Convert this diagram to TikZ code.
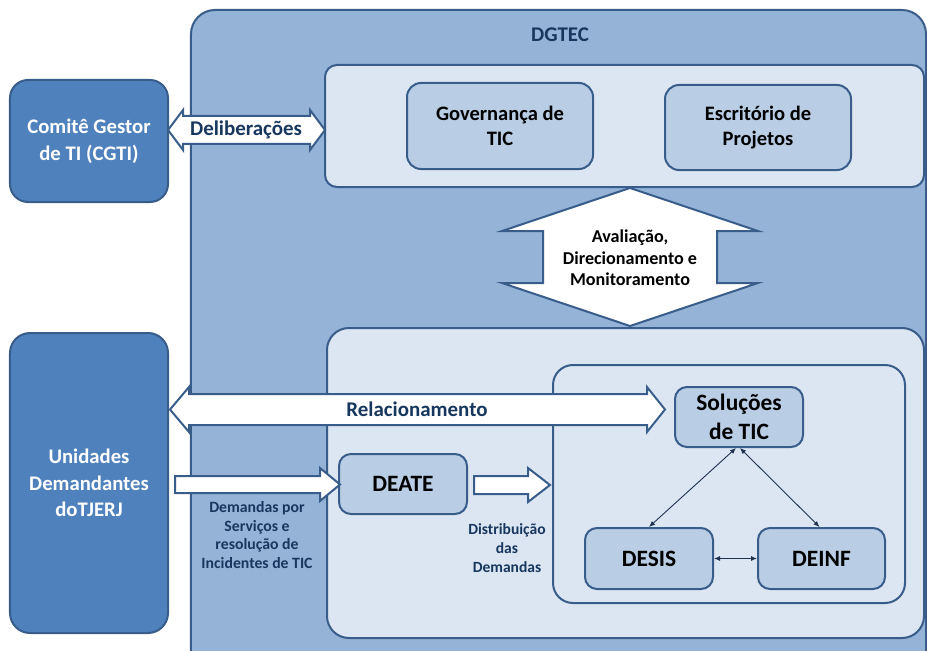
\documentclass[tikz,border=0pt]{standalone}
\usepackage{fontspec}
\setmainfont{Carlito}
\usetikzlibrary{arrows.meta}

\definecolor{edge}{HTML}{385D8A}
\definecolor{darkfill}{HTML}{4F81BD}
\definecolor{midfill}{HTML}{95B3D7}
\definecolor{palefill}{HTML}{DCE6F2}
\definecolor{boxfill}{HTML}{B9CDE5}
\definecolor{navy}{HTML}{17375E}
\definecolor{linkline}{HTML}{1F3350}

\tikzset{
  panel/.style={draw=edge, line width=2bp, rounded corners=#1, inner sep=0pt},
  outerbox/.style={panel=24bp, fill=midfill},
  palebox/.style={panel=#1, fill=palefill},
  unitbox/.style={panel=14bp, fill=boxfill, align=center, text=black,
    font=\bfseries\fontsize{20.6}{25.5}\selectfont},
  smallunit/.style={unitbox, panel=12bp, font=\bfseries\fontsize{23.5}{28.5}\selectfont},
  bigbox/.style={panel=#1, fill=darkfill, align=center, text=white,
    font=\bfseries\fontsize{20.8}{26.8}\selectfont},
  blockarrow/.style={draw=edge, line width=2bp, fill=white, line join=miter},
  navylabel/.style={text=navy, align=center, inner sep=0pt},
  link/.style={draw=linkline, line width=0.9bp, {Latex[length=6bp,width=5bp]}-{Latex[length=6bp,width=5bp]}}
}

\begin{document}
\begin{tikzpicture}[x=1bp, y=-1bp]
\useasboundingbox (0,0) rectangle (927,651);
\clip (0,0) rectangle (927,651);

% DGTEC area and its panels
\node[outerbox, minimum width=735bp, minimum height=670bp] (dgtec) at (558.5,345) {};
\node[navylabel, font=\bfseries\fontsize{21}{25}\selectfont] (dgteclabel) at (560,35) {DGTEC};

\node[palebox=12bp, minimum width=599bp, minimum height=122bp] (upper) at (624.5,126) {};
\node[palebox=22bp, minimum width=597bp, minimum height=310bp] (lower) at (625.5,483) {};
\node[palebox=20bp, minimum width=352bp, minimum height=238bp] (cont) at (729,484) {};

% outside units
\node[bigbox=18bp, minimum width=158bp, minimum height=122bp] (cgti) at (89,141)
  {Comitê Gestor\\de TI (CGTI)};
\node[bigbox=20bp, minimum width=158bp, minimum height=300bp] (unid) at (89,483)
  {Unidades\\Demandantes\\doTJERJ};

% inner units
\node[unitbox, minimum width=186bp, minimum height=86bp] (gov) at (500,126)
  {Governança de\\TIC};
\node[unitbox, minimum width=186bp, minimum height=85bp] (esc) at (758,127.5)
  {Escritório de\\Projetos};
\node[smallunit, minimum width=128bp, minimum height=60bp] (sol) at (739,417) {Soluções\\de TIC};
\node[smallunit, minimum width=128bp, minimum height=60bp] (deate) at (403,484) {DEATE};
\node[smallunit, minimum width=128bp, minimum height=61bp] (desis) at (649,558.5) {DESIS};
\node[smallunit, minimum width=127bp, minimum height=61bp] (deinf) at (821.5,558.5) {DEINF};

% block arrows
\draw[blockarrow] (168,130) -- (183,110) -- (183,116) -- (310,116) -- (310,110)
  -- (325,130) -- (310,150) -- (310,144) -- (183,144) -- (183,150) -- cycle;
\node[navylabel, font=\bfseries\fontsize{21}{25}\selectfont] (delib) at (246,130) {Deliberações};

\draw[blockarrow] (630,188) -- (758,231) -- (717,231) -- (717,283) -- (758,283)
  -- (630,326) -- (502,283) -- (543,283) -- (543,231) -- (502,231) -- cycle;
\node[align=center, inner sep=0pt, font=\bfseries\fontsize{18.2}{21.5}\selectfont] (adm) at (630,258)
  {Avaliação,\\Direcionamento e\\Monitoramento};

\draw[blockarrow] (170,409.5) -- (189,387) -- (189,394) -- (647,394) -- (647,387)
  -- (665,409.5) -- (647,432) -- (647,425) -- (189,425) -- (189,432) -- cycle;
\node[navylabel, font=\bfseries\fontsize{21}{25}\selectfont] (rel) at (417,409.5) {Relacionamento};

\draw[blockarrow] (175,476) -- (320,476) -- (320,468) -- (340,484.5) -- (320,501)
  -- (320,493) -- (175,493) -- cycle;
\node[navylabel, font=\bfseries\fontsize{15.8}{19}\selectfont] (dem) at (257,535)
  {Demandas por\\Serviços e\\resolução de\\Incidentes de TIC};

\draw[blockarrow] (474,476) -- (528,476) -- (528,468) -- (550,485) -- (528,502)
  -- (528,494) -- (474,494) -- cycle;
\node[navylabel, font=\bfseries\fontsize{15.6}{19}\selectfont] (dist) at (507,548)
  {Distribuição\\das\\Demandas};

% links between the solution units
\draw[link] ([xshift=-3bp]sol.south) -- (desis.north);
\draw[link] ([xshift=1bp]sol.south) -- ([xshift=-2bp]deinf.north);
\draw[link] (desis.east) -- (deinf.west);
\end{tikzpicture}
\end{document}
